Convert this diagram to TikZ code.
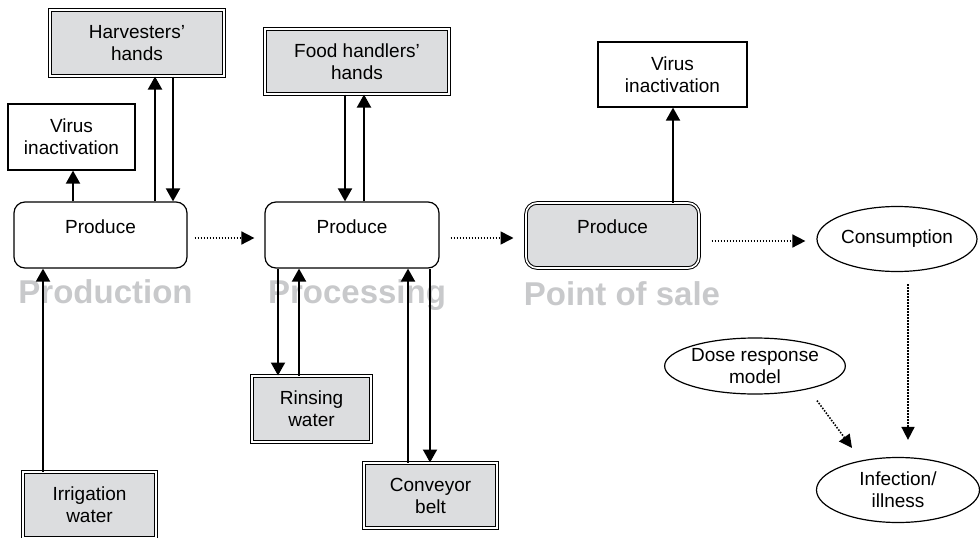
\documentclass[tikz,border=0pt]{standalone}
\usepackage{fontspec}
\setmainfont{Liberation Sans}
\usetikzlibrary{arrows.meta,shapes.geometric}
\definecolor{boxgray}{HTML}{DCDDDF}
\definecolor{labgray}{HTML}{C8C9CB}
\begin{document}
\begin{tikzpicture}[x=1pt,y=-1pt,
  every node/.style={font=\fontsize{19}{22}\selectfont, align=center, inner sep=0pt},
  plainbox/.style={draw, line width=1.2pt, fill=white, rectangle},
  roundbox/.style={draw, line width=1.2pt, rounded corners=11pt, fill=white, text height=14pt, text depth=18pt},
  graybox/.style={draw, line width=1pt, double=white, double distance=1.6pt, fill=boxgray},
  oval/.style={draw, ellipse, line width=1.2pt},
  stagelab/.style={font=\fontsize{33}{36}\selectfont\bfseries, text=labgray, anchor=base},
  arr/.style={line width=1.9pt, -{Triangle[length=13pt,width=14pt]}},
  darr/.style={line width=1.6pt, dash pattern=on 1.5pt off 1.5pt, -{Triangle[length=13pt,width=13pt]}}
]
\clip (0,0) rectangle (980,538);

% stage labels
\node[stagelab] (lprod) at (105.5,303) {Production};
\node[stagelab] (lproc) at (357,303) {Processing};
\node[stagelab] (lpos) at (622,305) {Point of sale};

% boxes
\node[graybox, minimum width=174pt, minimum height=66pt] (harv) at (137,43) {Harvesters'\\hands};
\node[plainbox, minimum width=127pt, minimum height=66pt] (virus1) at (71.5,137) {Virus\\inactivation};
\node[roundbox, minimum width=173pt, minimum height=66pt] (prod1) at (100.5,235) {Produce};
\node[graybox, minimum width=133pt, minimum height=66pt] (irr) at (89.5,505) {Irrigation\\water};

\node[graybox, minimum width=184pt, minimum height=65pt] (food) at (357,61.5) {Food handlers'\\hands};
\node[roundbox, minimum width=174pt, minimum height=66pt] (prod2) at (352,235) {Produce};
\node[graybox, minimum width=119pt, minimum height=66pt] (rinse) at (311.5,409) {Rinsing\\water};
\node[graybox, minimum width=133pt, minimum height=65pt] (conv) at (430.5,495.5) {Conveyor\\belt};

\node[graybox, rounded corners=11pt, text height=14pt, text depth=18pt, minimum width=173pt, minimum height=65pt] (prod3) at (612.5,235.5) {Produce};
\node[plainbox, minimum width=149pt, minimum height=65pt] (virus2) at (672.5,74.5) {Virus\\inactivation};

\node[oval, minimum width=160pt, minimum height=65pt] (cons) at (897,239) {Consumption};
\node[oval, minimum width=176pt, minimum height=56pt] (dose) at (755,366) {Dose response\\model};
\node[oval, minimum width=163pt, minimum height=65pt] (inf) at (898,490) {Infection/\\illness};

% x positions of vertical connectors
\coordinate (xa) at (73,0);
\coordinate (xb) at (155,0);
\coordinate (xc) at (173,0);
\coordinate (xd) at (43,0);
\coordinate (xe) at (345,0);
\coordinate (xf) at (364,0);
\coordinate (xg) at (278,0);
\coordinate (xh) at (299,0);
\coordinate (xi) at (408,0);
\coordinate (xj) at (430,0);
\coordinate (xk) at (673,0);

% production
\draw[arr] (prod1.north -| xa) -- (virus1.south -| xa);
\draw[arr] (prod1.north -| xb) -- (harv.south -| xb);
\draw[arr] (harv.south -| xc) -- (prod1.north -| xc);
\draw[arr] (irr.north -| xd) -- (prod1.south -| xd);

% processing
\draw[arr] (food.south -| xe) -- (prod2.north -| xe);
\draw[arr] (prod2.north -| xf) -- (food.south -| xf);
\draw[arr] (prod2.south -| xg) -- (rinse.north -| xg);
\draw[arr] (rinse.north -| xh) -- (prod2.south -| xh);
\draw[arr] (conv.north -| xi) -- (prod2.south -| xi);
\draw[arr] (prod2.south -| xj) -- (conv.north -| xj);

% point of sale
\draw[arr] (prod3.north -| xk) -- (virus2.south -| xk);

% dotted flow
\draw[darr] ([xshift=7pt,yshift=-3pt]prod1.east) -- ([xshift=-10pt,yshift=-3pt]prod2.west);
\draw[darr] ([xshift=11pt,yshift=-3pt]prod2.east) -- ([xshift=-12pt,yshift=-2.5pt]prod3.west);
\draw[darr] ([xshift=12pt,yshift=-5.5pt]prod3.east) -- ([xshift=-11pt,yshift=-2pt]cons.west);
\draw[darr] ([xshift=11pt,yshift=-12pt]cons.south) -- ([xshift=10pt,yshift=17pt]inf.north);
\draw[darr] ([xshift=62pt,yshift=-6pt]dose.south) -- ([xshift=-46pt,yshift=9pt]inf.north);
\end{tikzpicture}
\end{document}
